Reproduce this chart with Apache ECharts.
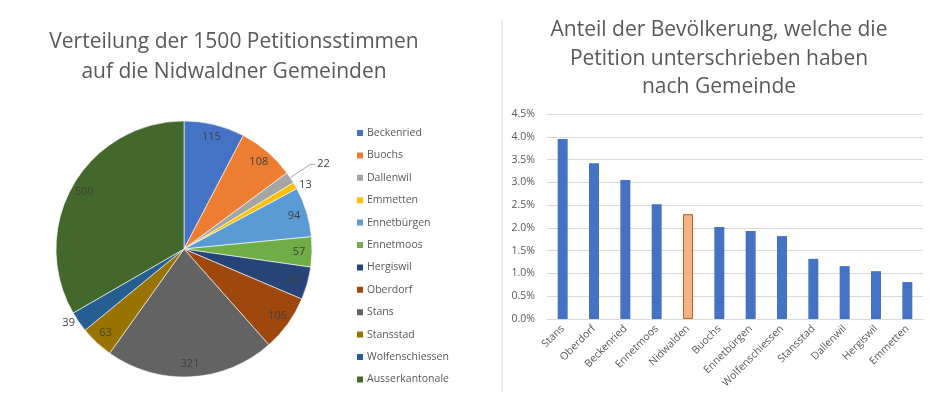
<!DOCTYPE html>
<html><head><meta charset="utf-8">
<script src="https://cdn.jsdelivr.net/npm/echarts@6/dist/echarts.min.js"></script>
<style>html,body{margin:0;padding:0;background:#fff}#c{width:941px;height:409px}</style>
</head><body><div id="c"></div>
<script>
var pieNames = ['Beckenried','Buochs','Dallenwil','Emmetten','Ennetbürgen','Ennetmoos','Hergiswil','Oberdorf','Stans','Stansstad','Wolfenschiessen','Ausserkantonale'];
var pieValues = [115,108,22,13,94,57,62,106,321,63,39,500];
var barCategories = ['Stans','Oberdorf','Beckenried','Ennetmoos','Nidwalden','Buochs','Ennetbürgen','Wolfenschiessen','Stansstad','Dallenwil','Hergiswil','Emmetten'];
var barValues = [3.95,3.42,3.05,2.52,2.30,2.02,1.93,1.82,1.32,1.16,1.05,0.81];
var yTicks = {min:0, max:4.5, interval:0.5};

var palette = ['#4472C4','#ED7D31','#A5A5A5','#FFC000','#5B9BD5','#70AD47','#264478','#9E480E','#636363','#997300','#255E91','#43682B'];
var outsideLabels = {'Dallenwil':'line','Emmetten':'plain','Wolfenschiessen':'plain'};
var FONT = "'Open Sans', sans-serif";
var TXT = '#595959';

var mainData = pieNames.map(function(n,i){
  return {name:n, value:pieValues[i], itemStyle:{color:palette[i]}};
});
var labelData = pieNames.map(function(n,i){
  var d = {name:n, value:pieValues[i]};
  if (outsideLabels[n]) {
    var withLine = outsideLabels[n]==='line';
    d.label = {position:'outside', color:'#404040', distanceToLabelLine:2};
    d.labelLine = {show: withLine, length: withLine ? 24 : 1, length2: withLine ? 5 : 1, lineStyle:{color:'#A5A5A5', width:1}};
  }
  return d;
});

var chart = echarts.init(document.getElementById('c'), null, {renderer:'canvas'});
chart.setOption({
  animation:false,
  textStyle:{fontFamily:FONT},
  title:[
    {text:'Verteilung der 1500 Petitionsstimmen\nauf die Nidwaldner Gemeinden', left:234, top:27, textAlign:'center', padding:0,
     textStyle:{fontFamily:FONT, fontSize:21, fontWeight:'normal', color:TXT, lineHeight:30}},
    {text:'Anteil der Bevölkerung, welche die\nPetition unterschrieben haben\nnach Gemeinde', left:719, top:16, textAlign:'center', padding:0,
     textStyle:{fontFamily:FONT, fontSize:21, fontWeight:'normal', color:TXT, lineHeight:28.5}}
  ],
  legend:{
    orient:'vertical', left:355, top:126, padding:0, itemWidth:8, itemHeight:8, itemGap:8.4,
    icon:'rect', data:pieNames,
    textStyle:{fontFamily:FONT, fontSize:10.5, color:TXT, lineHeight:14, padding:[0,0,0,-2]}
  },
  grid:{left:547, right:18, top:114, bottom:90},
  xAxis:{
    type:'category', data:barCategories,
    axisLine:{lineStyle:{color:'#D9D9D9'}}, axisTick:{show:false},
    axisLabel:{rotate:45, color:TXT, fontSize:10.5, fontFamily:FONT, margin:8, interval:0}
  },
  yAxis:{
    type:'value', min:yTicks.min, max:yTicks.max, interval:yTicks.interval,
    axisLine:{show:false}, axisTick:{show:false},
    splitLine:{lineStyle:{color:'#D9D9D9'}},
    axisLabel:{color:TXT, fontSize:10.5, fontFamily:FONT, margin:12, formatter:function(v){return v.toFixed(1)+'%';}}
  },
  graphic:[{type:'line', shape:{x1:502,y1:20,x2:502,y2:392}, style:{stroke:'#D9D9D9', lineWidth:1}, silent:true}],
  series:[
    {type:'pie', name:'Stimmen', center:[184,249], radius:128, startAngle:90, clockwise:true,
     data:mainData, label:{show:false}, labelLine:{show:false},
     itemStyle:{borderColor:'#ffffff', borderWidth:0.6}, emphasis:{disabled:true}},
    {type:'pie', name:'Labels', center:[184,249], radius:[96,128], startAngle:90, clockwise:true, silent:true,
     data:labelData, itemStyle:{color:'rgba(0,0,0,0)'}, avoidLabelOverlap:false,
     label:{show:true, position:'inside', formatter:'{c}', color:'#404040', fontSize:11, fontFamily:FONT},
     labelLine:{show:false}, emphasis:{disabled:true}},
    {type:'bar', data:barValues.map(function(v,i){
       return barCategories[i]==='Nidwalden' ? {value:v, itemStyle:{color:'#F4B183', borderColor:'#C55A11', borderWidth:1}} : v;
     }), barWidth:10, itemStyle:{color:'#4472C4'}}
  ]
});
</script></body></html>
